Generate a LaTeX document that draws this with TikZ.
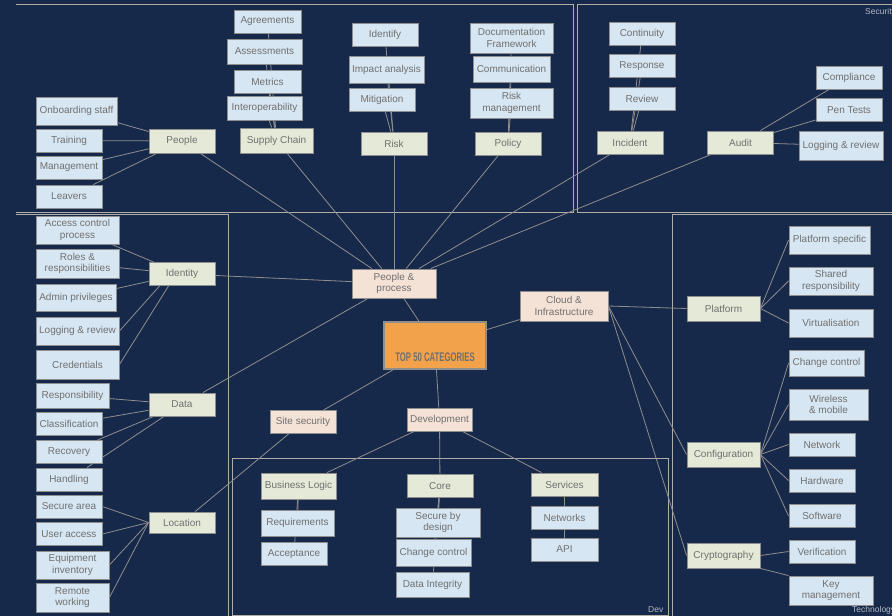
\documentclass[tikz,border=0pt]{standalone}
\usepackage{fontspec}
\setmainfont{Liberation Sans}
\usetikzlibrary{calc}
\definecolor{navy}{HTML}{17294A}
\definecolor{leafblue}{HTML}{D6E6F2}
\definecolor{catgreen}{HTML}{E4EAD7}
\definecolor{areapeach}{HTML}{F4E2D6}
\definecolor{hub}{HTML}{F2A24B}
\definecolor{boxline}{HTML}{8E8E8E}
\definecolor{txt}{HTML}{707070}
\definecolor{wire}{HTML}{8E8E8E}
\definecolor{framec}{HTML}{B0AEA6}
\definecolor{tagc}{HTML}{B4B8C2}
\pgfdeclarelayer{back}
\pgfdeclarelayer{links}
\pgfsetlayers{back,links,main}

\begin{document}
\begin{tikzpicture}[
  x=1pt, y=-1pt,
  box/.style={draw=boxline, line width=0.9pt, text=txt, align=center, inner sep=2pt,
    minimum width=66, minimum height=23, font=\fontsize{10}{11.5}\selectfont},
  leaf/.style={box, fill=leafblue},
  cat/.style={box, fill=catgreen},
  area/.style={box, fill=areapeach},
  link/.style={draw=wire, line width=0.8pt},
  frame/.style={draw=framec, line width=1pt},
  tag/.style={text=tagc, font=\fontsize{8.5}{9}\selectfont, inner sep=0pt}
]
  \useasboundingbox (0,0) rectangle (892,616);
  \clip (0,0) rectangle (892,616);

  % centre
  \node[draw=boxline, line width=1.6pt, fill=hub, minimum width=102, text height=36pt, text depth=5pt,
        inner sep=3pt, text=txt, font=\fontsize{12.5}{13}\selectfont\bfseries] (top) at (435,345.5)
        {\scalebox{0.62}[1]{TOP 50 CATEGORIES}};
  \node[area, minimum width=84, minimum height=29] (pp) at (394,283.5) {People \&\\process};
  \node[area, minimum width=88, minimum height=30] (cloud) at (564,306) {Cloud \&\\Infrastructure};
  \node[area] (site) at (303,422) {Site security};
  \node[area, minimum width=65] (dev) at (439.5,419.5) {Development};

  % people & process
  \node[cat, minimum height=24] (people) at (182,141) {People};
  \node[leaf, minimum width=81, minimum height=28] (onboard) at (76.5,111) {Onboarding staff};
  \node[leaf] (train) at (69,140.5) {Training};
  \node[leaf] (manage) at (69,167.5) {Management};
  \node[leaf] (leave) at (69,196.5) {Leavers};

  \node[cat, minimum width=73, minimum height=25] (supply) at (276.5,140.5) {Supply Chain};
  \node[leaf, minimum width=67] (agree) at (267.5,21.5) {Agreements};
  \node[leaf, minimum width=75, minimum height=25] (assess) at (264.5,51.5) {Assessments};
  \node[leaf, minimum width=67] (metric) at (267.5,82) {Metrics};
  \node[leaf, minimum width=75, minimum height=24] (interop) at (264.5,108) {Interoperability};

  \node[cat] (risk) at (394,143.5) {Risk};
  \node[leaf] (ident) at (385,35) {Identify};
  \node[leaf, minimum width=75, minimum height=27] (impact) at (386.5,69.5) {Impact analysis};
  \node[leaf] (mitig) at (382,99.5) {Mitigation};

  \node[cat] (policy) at (508,143.5) {Policy};
  \node[leaf, minimum width=83, minimum height=30] (docfw) at (511.5,38) {Documentation\\Framework};
  \node[leaf, minimum width=77, minimum height=26] (comms) at (511.5,69) {Communication};
  \node[leaf, minimum width=83, minimum height=30] (riskman) at (511.5,103) {Risk\\management};

  \node[cat] (incid) at (630,142.5) {Incident};
  \node[leaf] (contin) at (642,34) {Continuity};
  \node[leaf] (respon) at (642,66) {Response};
  \node[leaf] (review) at (642,99) {Review};

  \node[cat] (audit) at (740.5,142.5) {Audit};
  \node[leaf] (compl) at (849,77.5) {Compliance};
  \node[leaf] (pentest) at (849,110) {Pen Tests};
  \node[leaf, minimum width=84, minimum height=29] (auditlog) at (841,145.5) {Logging \& review};

  \node[cat] (identity) at (182,274) {Identity};
  \node[leaf, minimum width=83, minimum height=28] (acp) at (77.5,230) {Access control\\process};
  \node[leaf, minimum width=83, minimum height=29] (roles) at (77.5,263.5) {Roles \&\\responsibilities};
  \node[leaf, minimum width=80, minimum height=27] (admin) at (76,297.5) {Admin privileges};
  \node[leaf, minimum width=83, minimum height=28] (idlog) at (77.5,331) {Logging \& review};
  \node[leaf, minimum width=83, minimum height=29] (cred) at (77.5,364.5) {Credentials};

  \node[cat] (data) at (182,404.5) {Data};
  \node[leaf, minimum width=73, minimum height=25] (respons) at (72.5,395.5) {Responsibility};
  \node[leaf] (classif) at (69,424) {Classification};
  \node[leaf] (recov) at (69,452) {Recovery};
  \node[leaf] (handl) at (69,479.5) {Handling};

  % site security
  \node[cat, minimum height=21] (location) at (182,522.5) {Location};
  \node[leaf] (secarea) at (69,506.5) {Secure area};
  \node[leaf] (usracc) at (69,534) {User access};
  \node[leaf, minimum width=73, minimum height=28] (equip) at (72.5,565) {Equipment\\inventory};
  \node[leaf, minimum width=73, minimum height=29] (remote) at (72.5,597.5) {Remote\\working};

  % development
  \node[cat, minimum width=75, minimum height=26] (bizlogic) at (298.5,486) {Business Logic};
  \node[leaf, minimum width=73, minimum height=26] (reqs) at (297.5,523) {Requirements};
  \node[leaf] (accept) at (294,554) {Acceptance};
  \node[cat] (core) at (440,486) {Core};
  \node[leaf, minimum width=84, minimum height=29] (secdes) at (438,522.5) {Secure by\\design};
  \node[leaf, minimum width=75, minimum height=27] (corechg) at (433.5,552.5) {Change control};
  \node[leaf, minimum width=73, minimum height=25] (integ) at (432.5,584.5) {Data Integrity};
  \node[cat, minimum width=67] (services) at (564.5,484.5) {Services};
  \node[leaf, minimum width=67] (netw) at (564.5,517.5) {Networks};
  \node[leaf, minimum width=67] (api) at (564.5,549.5) {API};

  % cloud & infrastructure
  \node[cat, minimum width=73, minimum height=25] (platform) at (723.5,308.5) {Platform};
  \node[leaf, minimum width=81, minimum height=28] (platspec) at (829.5,240) {Platform specific};
  \node[leaf, minimum width=84, minimum height=28] (shared) at (831,281) {Shared\\responsibility};
  \node[leaf, minimum width=84, minimum height=28] (virtual) at (831,323) {Virtualisation};
  \node[cat, minimum width=73, minimum height=25] (config) at (723.5,454.5) {Configuration};
  \node[leaf, minimum width=75, minimum height=26] (chgctl) at (826.5,363) {Change control};
  \node[leaf, minimum width=79, minimum height=31] (wireless) at (828.5,404.5) {Wireless\\\& mobile};
  \node[leaf] (network) at (822,444.5) {Network};
  \node[leaf] (hardware) at (822,480.5) {Hardware};
  \node[leaf] (software) at (822,516) {Software};
  \node[cat, minimum width=73, minimum height=25] (crypto) at (723.5,555.5) {Cryptography};
  \node[leaf] (verif) at (822,551.5) {Verification};
  \node[leaf, minimum width=84, minimum height=29] (keymgmt) at (831,590.5) {Key\\management};

  \node[tag, anchor=west] (sectag) at (865,12) {Security};
  \node[tag, anchor=west] (devtag) at (648,610) {Dev};
  \node[tag, anchor=west] (techtag) at (852,610) {Technology};

  \begin{pgfonlayer}{back}
    \fill[navy] (0,0) rectangle (892,616);
    \draw[frame] (16,4) -- (573,4) -- (573,212) -- (16,212);
    \draw[frame] (892,4) -- (577,4) -- (577,212) -- (892,212);
    \draw[frame] (16,214.5) -- (228,214.5) -- (228,616);
    \draw[frame] (892,214.5) -- (672,214.5) -- (672,616);
    \draw[frame] (232,458) rectangle (668,615);
  \end{pgfonlayer}

  \begin{pgfonlayer}{links}
    \draw[link] (top) -- (pp); \draw[link] (top) -- (cloud);
    \draw[link] (top) -- (site); \draw[link] (top) -- (dev);

    \draw[link] (pp) -- (people); \draw[link] (pp) -- (supply); \draw[link] (pp) -- (risk);
    \draw[link] (pp) -- (policy); \draw[link] (pp) -- (incid); \draw[link] (pp) -- (audit);
    \draw[link] (pp) -- (identity); \draw[link] (pp) -- (data);

    \draw[link] (people) -- (onboard); \draw[link] (people) -- (train);
    \draw[link] (people) -- (manage); \draw[link] (people) -- (leave);
    \draw[link] (supply) -- (agree); \draw[link] (supply) -- (assess);
    \draw[link] (supply) -- (metric); \draw[link] (supply) -- (interop);
    \draw[link] (risk) -- (ident); \draw[link] (risk) -- (impact); \draw[link] (risk) -- (mitig);
    \draw[link] (policy) -- (docfw); \draw[link] (policy) -- (comms); \draw[link] (policy) -- (riskman);
    \draw[link] (incid) -- (contin); \draw[link] (incid) -- (respon); \draw[link] (incid) -- (review);
    \draw[link] (audit) -- (compl); \draw[link] (audit) -- (pentest); \draw[link] (audit) -- (auditlog);

    \draw[link] (identity) -- (acp); \draw[link] (identity) -- (roles); \draw[link] (identity) -- (admin);
    \draw[link] (idlog.east) -- ([xshift=11pt]identity.south west);
    \draw[link] (cred.east) -- ([xshift=20pt]identity.south west);
    \draw[link] (data) -- (respons); \draw[link] (data) -- (classif);
    \draw[link] (data) -- (recov); \draw[link] (data) -- (handl);

    \draw[link] (site) -- (location);
    \draw[link] (secarea.east) -- (location.west); \draw[link] (usracc.east) -- (location.west);
    \draw[link] (equip.east) -- (location.west); \draw[link] (remote.east) -- (location.west);

    \draw[link] (dev) -- (bizlogic); \draw[link] (dev) -- (core); \draw[link] (dev) -- (services);
    \draw[link] (bizlogic) -- (reqs); \draw[link] (bizlogic) -- (accept);
    \draw[link] (core) -- (secdes); \draw[link] (core) -- (corechg); \draw[link] (core) -- (integ);
    \draw[link] (services) -- (netw); \draw[link] (services) -- (api);

    \draw[link] (cloud.east) -- (platform.west); \draw[link] (cloud.east) -- (config.west);
    \draw[link] (cloud.east) -- (crypto.west);
    \draw[link] (platform.east) -- (platspec.west); \draw[link] (platform.east) -- (shared.west);
    \draw[link] (platform.east) -- (virtual.west);
    \draw[link] (config.east) -- (chgctl.west); \draw[link] (config.east) -- (wireless.west);
    \draw[link] (config.east) -- (network.west); \draw[link] (config.east) -- (hardware.west);
    \draw[link] (config.east) -- (software.west);
    \draw[link] (crypto.east) -- (verif.west); \draw[link] (crypto.south east) -- (keymgmt.north west);
  \end{pgfonlayer}
\end{tikzpicture}
\end{document}
